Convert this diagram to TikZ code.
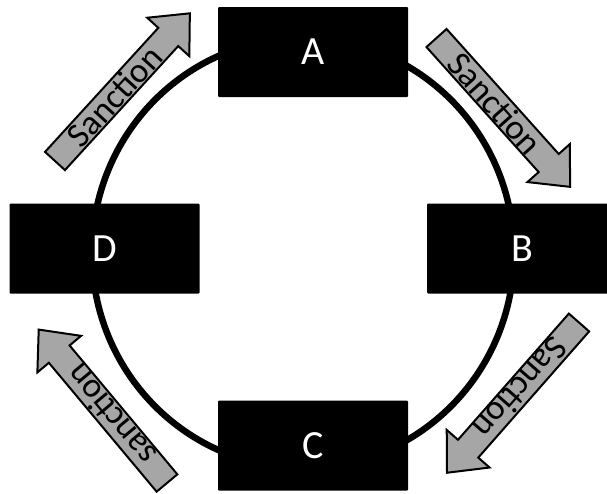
\documentclass[tikz,border=0pt]{standalone}
\usepackage{fontspec}
\setmainfont{Carlito}
\usetikzlibrary{shapes.geometric}
\definecolor{arrowgray}{RGB}{166,166,166}
\begin{document}
\begin{tikzpicture}[x=1pt,y=-1pt,
  box/.style={fill=black, draw=none, rounded corners=1pt, minimum width=190pt, minimum height=90pt, text=white, font=\fontsize{40}{40}\selectfont, inner sep=0pt},
  ring/.style={ellipse, draw=black, line width=6.5pt, minimum width=422pt, minimum height=430pt, inner sep=0pt},
  arrowbody/.style={fill=arrowgray, draw=black, line width=2pt, line join=miter},
  arrowtext/.style={font=\fontsize{35}{35}\selectfont, transform shape, inner sep=0pt},
  pics/sanction/.style={code={
    \draw[arrowbody] (0,-13.5) -- (168,-13.5) -- (168,-28.5) -- (200,0) -- (168,28.5) -- (168,13.5) -- (0,13.5) -- cycle;
    \node[arrowtext] (-text) at (88,0) {#1};
  }}
]
\useasboundingbox (0,0) rectangle (607,493);
\clip (0,0) rectangle (607,493);
\fill[white] (0,0) rectangle (607,493);
\node[ring] (ring) at (303,253) {};
\node[box] (A) at (313,52) {A};
\node[box] (B) at (522,248.5) {B};
\node[box] (C) at (313,445.5) {C};
\node[box] (D) at (104.5,248.5) {D};
\pic[rotate=47.6] (s1) at (55,161) {sanction=Sanction};
\pic[rotate=-48.1] (s2) at (436.5,38) {sanction=Sanction};
\pic[rotate=228.7] (s3) at (579,322.5) {sanction=Sanction};
\pic[rotate=129.9] (s4) at (167,483) {sanction=sanction};
\end{tikzpicture}
\end{document}
